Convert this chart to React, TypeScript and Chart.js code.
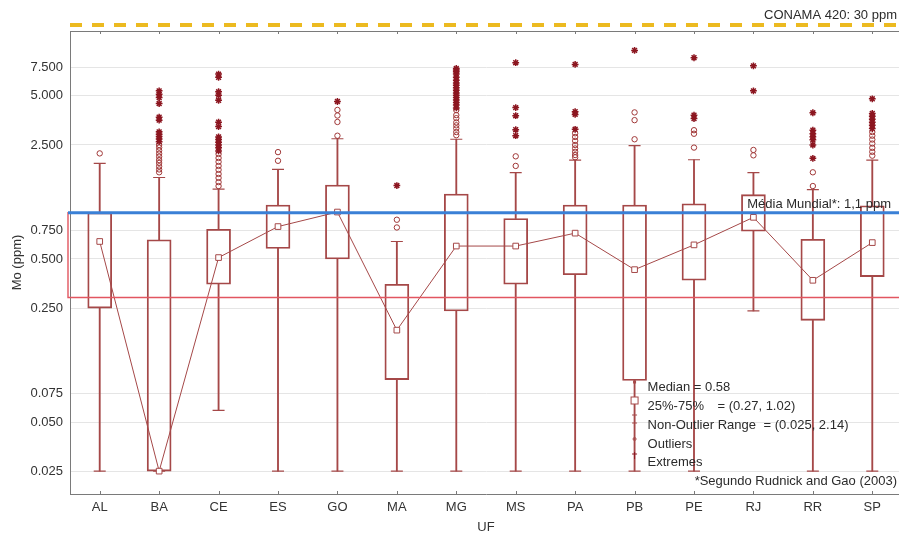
import React, { useEffect, useRef } from "react";
import { Chart, registerables } from "chart.js";

Chart.register(...registerables);

const categories = ["AL", "BA", "CE", "ES", "GO", "MA", "MG", "MS", "PA", "PB", "PE", "RJ", "RR", "SP"];
const q1 = [0.25, 0.025, 0.35, 0.58, 0.5, 0.091, 0.24, 0.35, 0.4, 0.09, 0.37, 0.74, 0.21, 0.39];
const q3 = [0.96, 0.655, 0.76, 1.07, 1.42, 0.35, 1.25, 0.885, 1.07, 1.07, 1.09, 1.24, 0.66, 1.06];
const medians = [0.64, 0.025, 0.51, 0.79, 0.97, 0.183, 0.6, 0.6, 0.72, 0.43, 0.61, 0.9, 0.37, 0.63];
const whiskerMin = [0.025, 0.025, 0.059, 0.025, 0.025, 0.025, 0.025, 0.025, 0.025, 0.025, 0.025, 0.24, 0.025, 0.025];
const whiskerMax = [1.93, 1.58, 1.34, 1.77, 2.73, 0.64, 2.71, 1.69, 2.02, 2.48, 2.03, 1.69, 1.33, 2.02];

const outliers: number[][] = [
  [2.22],
  [2.5, 2.41, 2.31, 2.21, 2.12, 2.02, 1.94, 1.85, 1.77, 1.7],
  [2.2, 2.08, 1.97, 1.86, 1.76, 1.66, 1.57, 1.48, 1.4],
  [2.26, 2.0],
  [2.85, 3.46, 3.79, 4.1],
  [0.87, 0.78],
  [4.09, 3.81, 3.65, 3.44, 3.3, 3.16, 3.0, 2.87],
  [2.13, 1.86],
  [2.95, 2.8, 2.65, 2.5, 2.38, 2.27, 2.17, 2.1],
  [2.71, 3.55, 3.96],
  [3.08, 2.93, 2.41],
  [2.33, 2.16],
  [1.7, 1.4],
  [3.0, 2.85, 2.7, 2.55, 2.4, 2.27, 2.15],
];
const extremes: number[][] = [
  [],
  [5.37, 5.12, 4.88, 4.49, 3.7, 3.55, 3.01, 2.91, 2.82, 2.72, 2.62],
  [6.8, 6.5, 5.3, 5.05, 4.7, 3.45, 3.24, 2.8, 2.7, 2.6, 2.5, 2.4, 2.3],
  [],
  [4.62],
  [1.41],
  [7.36, 7.2, 7.02, 6.8, 6.5, 6.24, 6.0, 5.82, 5.6, 5.42, 5.2, 5.05, 4.88, 4.71, 4.55, 4.39, 4.22],
  [7.99, 4.24, 3.78, 3.1, 2.85],
  [7.8, 4.0, 3.85, 3.12],
  [9.5],
  [8.57, 3.81, 3.63],
  [7.64, 5.37],
  [3.94, 3.08, 2.93, 2.81, 2.69, 2.5, 2.07],
  [4.8, 3.9, 3.75, 3.6, 3.45, 3.3, 3.15],
];

const yTickValues = [0.025, 0.05, 0.075, 0.25, 0.5, 0.75, 2.5, 5, 7.5];
const yTickLabels = ["0.025", "0.050", "0.075", "0.250", "0.500", "0.750", "2.500", "5.000", "7.500"];
const yMin = 0.0181;
const yMax = 12.5;
const mediaMundial = 0.96;
const faixaInferior = 0.29;

const FONT = "'Liberation Sans', Arial, sans-serif";
const BOX = "rgb(165,72,72)";
const STAR = "rgb(140,22,32)";
const TXT = "#2b2b2b";

const annotations = {
  id: "annotations",
  beforeDatasetsDraw(chart: any) {
    const { ctx, chartArea: a, scales } = chart;
    const xs = scales.x;
    ctx.save();
    ctx.strokeStyle = "#7a7a7a";
    ctx.lineWidth = 1;
    ctx.beginPath();
    ctx.moveTo(a.left, a.top + 0.5);
    ctx.lineTo(a.right, a.top + 0.5);
    ctx.stroke();
    categories.forEach((_, i) => {
      const px = Math.round(xs.getPixelForValue(i)) + 0.5;
      ctx.beginPath();
      ctx.moveTo(px, a.top);
      ctx.lineTo(px, a.top + 3);
      ctx.moveTo(px, a.bottom);
      ctx.lineTo(px, a.bottom - 3);
      ctx.stroke();
    });
    ctx.restore();
  },
  afterDatasetsDraw(chart: any) {
    const { ctx, chartArea: a, scales } = chart;
    const ys = scales.y;
    const xs = scales.x;
    ctx.save();
    const yTop = ys.getPixelForValue(mediaMundial);
    const yLow = ys.getPixelForValue(faixaInferior);
    // red band
    ctx.strokeStyle = "rgb(226,86,96)";
    ctx.lineWidth = 1.4;
    ctx.beginPath();
    ctx.moveTo(a.right + 2, yLow);
    ctx.lineTo(a.left - 2, yLow);
    ctx.lineTo(a.left - 2, yTop);
    ctx.lineTo(a.right + 2, yTop);
    ctx.stroke();
    // blue line
    ctx.strokeStyle = "rgb(58,128,214)";
    ctx.lineWidth = 3;
    ctx.beginPath();
    ctx.moveTo(a.left - 2, yTop);
    ctx.lineTo(a.right, yTop);
    ctx.stroke();
    // yellow dashed line
    ctx.strokeStyle = "rgb(236,186,32)";
    ctx.lineWidth = 4;
    ctx.setLineDash([12, 10]);
    ctx.beginPath();
    ctx.moveTo(a.left, a.top - 6);
    ctx.lineTo(a.right, a.top - 6);
    ctx.stroke();
    ctx.setLineDash([]);

    ctx.fillStyle = TXT;
    ctx.font = `13px ${FONT}`;
    ctx.textBaseline = "middle";
    ctx.textAlign = "right";
    ctx.fillText("CONAMA 420: 30 ppm", a.right - 5, a.top - 16);
    ctx.fillText("Média Mundial*: 1,1 ppm", a.right - 11, yTop - 8);
    ctx.fillText("*Segundo Rudnick and Gao (2003)", a.right - 5, a.bottom - 13);
    ctx.textAlign = "left";

    const px = xs.getPixelForValue(9);
    const tx = px + 13;
    const b = a.bottom;
    ctx.fillText("Median = 0.58", tx, b - 106.5);
    ctx.fillText("25%-75%", tx, b - 87.5);
    ctx.fillText("= (0.27, 1.02)", tx + 70, b - 87.5);
    ctx.fillText("Non-Outlier Range", tx, b - 68.5);
    ctx.fillText("= (0.025, 2.14)", tx + 116, b - 68.5);
    ctx.fillText("Outliers", tx, b - 50);
    ctx.fillText("Extremes", tx, b - 31.5);

    // legend symbols
    ctx.strokeStyle = BOX;
    ctx.fillStyle = BOX;
    ctx.lineWidth = 1;
    ctx.fillRect(px - 1.5, b - 113.5, 3, 3);
    ctx.fillStyle = "#fff";
    ctx.fillRect(px - 3.5, b - 97, 7, 7);
    ctx.strokeRect(px - 3.5, b - 97, 7, 7);
    ctx.beginPath();
    ctx.moveTo(px - 2.5, b - 79);
    ctx.lineTo(px + 2.5, b - 79);
    ctx.moveTo(px, b - 79);
    ctx.lineTo(px, b - 71);
    ctx.moveTo(px - 2.5, b - 71);
    ctx.lineTo(px + 2.5, b - 71);
    ctx.stroke();
    ctx.beginPath();
    ctx.arc(px, b - 55, 1.5, 0, Math.PI * 2);
    ctx.stroke();
    ctx.strokeStyle = STAR;
    ctx.beginPath();
    ctx.moveTo(px - 2.5, b - 40);
    ctx.lineTo(px + 2.5, b - 40);
    ctx.moveTo(px, b - 42);
    ctx.lineTo(px, b - 35);
    ctx.stroke();
    ctx.restore();
  },
};

export default function App() {
  const ref = useRef<HTMLCanvasElement | null>(null);

  useEffect(() => {
    if (!ref.current) return;
    const outlierPts = categories.flatMap((c, i) => outliers[i].map((v) => ({ x: c, y: v })));
    const extremePts = categories.flatMap((c, i) => extremes[i].map((v) => ({ x: c, y: v })));
    const capPts = categories.flatMap((c, i) => [
      { x: c, y: whiskerMin[i] },
      { x: c, y: whiskerMax[i] },
    ]);

    const chart = new Chart(ref.current, {
      type: "bar",
      data: {
        labels: categories,
        datasets: [
          {
            type: "line",
            label: "Extremes",
            data: extremePts as any,
            showLine: false,
            pointStyle: "star",
            pointRadius: 3.4,
            pointBorderWidth: 1.5,
            pointBorderColor: STAR,
            pointBackgroundColor: STAR,
          } as any,
          {
            type: "line",
            label: "Outliers",
            data: outlierPts as any,
            showLine: false,
            pointStyle: "circle",
            pointRadius: 2.7,
            pointBorderWidth: 1,
            pointBorderColor: "rgb(160,55,55)",
            pointBackgroundColor: "rgba(255,255,255,0)",
          } as any,
          {
            type: "line",
            label: "Median",
            data: medians,
            borderColor: BOX,
            borderWidth: 1,
            pointStyle: "rect",
            pointRadius: 4,
            pointBorderWidth: 1,
            pointBorderColor: BOX,
            pointBackgroundColor: "#fff",
            tension: 0,
          } as any,
          {
            type: "line",
            label: "Caps",
            data: capPts as any,
            showLine: false,
            pointStyle: "line",
            pointRadius: 6,
            pointBorderWidth: 1.2,
            pointBorderColor: BOX,
          } as any,
          {
            type: "bar",
            label: "25%-75%",
            data: categories.map((_, i) => [q1[i], q3[i]]) as any,
            backgroundColor: "rgba(255,255,255,0)",
            borderColor: BOX,
            borderWidth: 1.2,
            borderSkipped: false,
            barThickness: 24,
            grouped: false,
          } as any,
          {
            type: "bar",
            label: "Whisker low",
            data: categories.map((_, i) => [whiskerMin[i], q1[i]]) as any,
            backgroundColor: BOX,
            borderWidth: 0,
            barThickness: 1.2,
            grouped: false,
          } as any,
          {
            type: "bar",
            label: "Whisker high",
            data: categories.map((_, i) => [q3[i], whiskerMax[i]]) as any,
            backgroundColor: BOX,
            borderWidth: 0,
            barThickness: 1.2,
            grouped: false,
          } as any,
        ],
      },
      options: {
        responsive: false,
        maintainAspectRatio: false,
        animation: false,
        events: [],
        layout: { autoPadding: false, padding: { top: 31, left: 0, right: 0, bottom: 0 } },
        plugins: {
          legend: { display: false },
          tooltip: { enabled: false },
        },
        scales: {
          x: {
            type: "category",
            offset: true,
            grid: { display: false, drawTicks: false },
            border: { display: true, color: "#7a7a7a", width: 1 },
            ticks: { color: "#333", font: { family: FONT, size: 13 }, padding: 6 },
            title: {
              display: true,
              text: "UF",
              color: "#333",
              font: { family: FONT, size: 13 },
              padding: { top: 0, bottom: 0 },
            },
            afterFit: (s: any) => {
              s.height = 41;
            },
          },
          y: {
            type: "logarithmic",
            min: yMin,
            max: yMax,
            afterBuildTicks: (s: any) => {
              s.ticks = yTickValues.map((v) => ({ value: v }));
            },
            ticks: {
              color: "#333",
              font: { family: FONT, size: 13 },
              padding: 7,
              autoSkip: false,
              callback: (v: any) => {
                const idx = yTickValues.indexOf(Number(v));
                return idx >= 0 ? yTickLabels[idx] : "";
              },
            },
            grid: { color: "#e5e5e5", drawTicks: false, lineWidth: 1 },
            border: { display: true, color: "#7a7a7a", width: 1 },
            title: {
              display: true,
              text: "Mo (ppm)",
              color: "#333",
              font: { family: FONT, size: 13 },
              padding: { top: 10, bottom: 0 },
            },
            afterFit: (s: any) => {
              s.width = 70;
            },
          },
        },
      } as any,
      plugins: [annotations],
    });
    return () => chart.destroy();
  }, []);

  return (
    <div
      style={{
        position: "absolute",
        left: 0,
        top: 0,
        width: 899,
        height: 535,
        overflow: "hidden",
        background: "#fff",
      }}
    >
      <canvas ref={ref} width={902} height={535} style={{ display: "block", width: 902, height: 535 }} />
    </div>
  );
}
